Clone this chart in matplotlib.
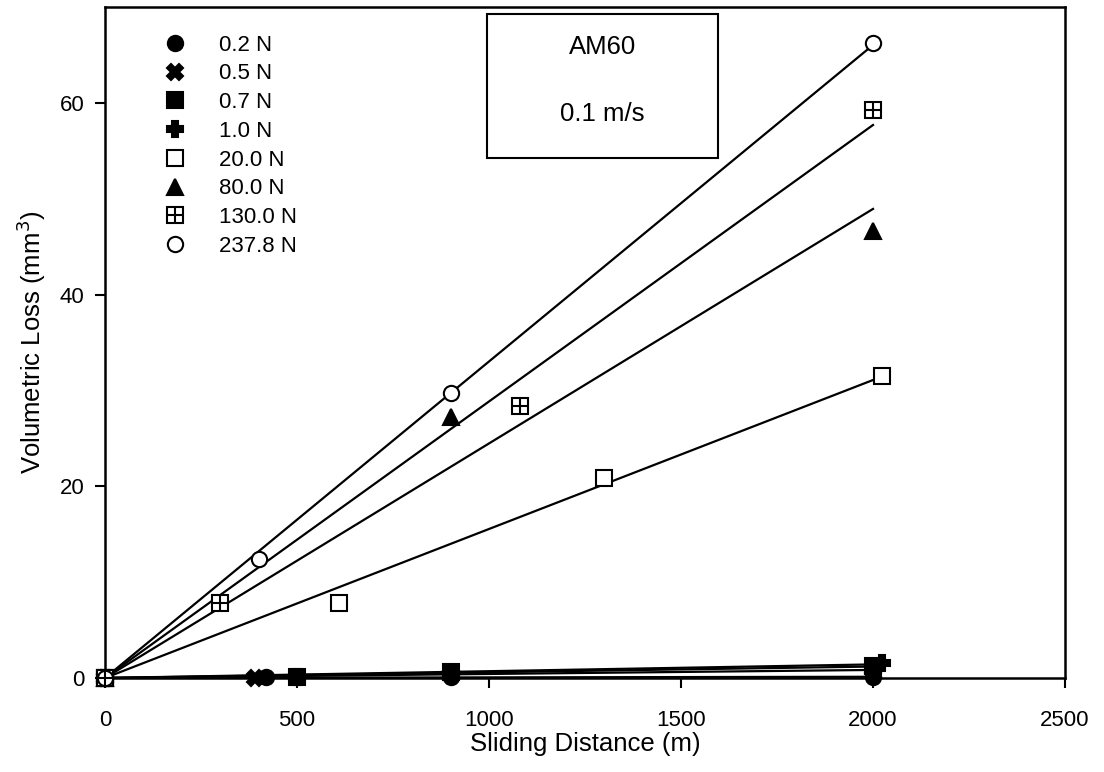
import numpy as np
import matplotlib
matplotlib.use('Agg')
import matplotlib.pyplot as plt
from matplotlib.legend_handler import HandlerTuple

plt.rcParams['font.family'] = ['Liberation Sans', 'DejaVu Sans']

# ---------- Data ----------
labels = ['0.2 N', '0.5 N', '0.7 N', '1.0 N', '20.0 N', '80.0 N', '130.0 N', '237.8 N']

x_02 = [0, 420, 900, 2000]
y_02 = [0, 0.05, 0.1, 0.1]
x_05 = [0, 390, 900, 2000]
y_05 = [0, 0.02, 0.3, 0.9]
x_07 = [0, 500, 900, 2000]
y_07 = [0, 0.15, 0.6, 1.2]
x_10 = [0, 500, 900, 2023]
y_10 = [0, 0.1, 0.4, 1.6]
x_20 = [0, 610, 1300, 2023]
y_20 = [0, 7.8, 20.9, 31.5]
x_80 = [0, 900, 2000]
y_80 = [0, 27.2, 46.6]
x_130 = [0, 300, 1080, 2000]
y_130 = [0, 7.8, 28.4, 59.3]
x_238 = [0, 400, 900, 2000]
y_238 = [0, 12.4, 29.7, 66.2]

xs = [x_02, x_05, x_07, x_10, x_20, x_80, x_130, x_238]
ys = [y_02, y_05, y_07, y_10, y_20, y_80, y_130, y_238]

# marker styles: (marker, facecolor)
styles = [('o', 'black'), ('X', 'black'), ('s', 'black'), ('P', 'black'),
          ('s', 'white'), ('^', 'black'), ('s', 'white'), ('o', 'white')]

fig = plt.figure(figsize=(11.04, 7.72), dpi=100)
ax = fig.add_axes([0.0951, 0.1218, 0.8696, 0.8692])

ms = 11
handles = []
for i, (x, y) in enumerate(zip(xs, ys)):
    x = np.array(x, float)
    y = np.array(y, float)
    # least-squares line through the origin
    slope = np.sum(x * y) / np.sum(x * x)
    xl = np.array([0, x.max()])
    ax.plot(xl, slope * xl, color='black', lw=1.6, zorder=2)

for i, (x, y) in enumerate(zip(xs, ys)):
    mk, fc = styles[i]
    h = ax.plot(x, y, ls='none', marker=mk, ms=ms, mfc=fc, mec='black', mew=1.5,
                zorder=3, clip_on=False)[0]
    if labels[i] == '130.0 N':
        h2 = ax.plot(x, y, ls='none', marker='+', ms=ms, mec='black', mew=1.5,
                     zorder=4, clip_on=False)[0]
        handles.append((h, h2))
    else:
        handles.append(h)

ax.legend(handles, labels, loc='upper left', bbox_to_anchor=(0.045, 0.982),
          frameon=False, fontsize=16, handlelength=1.0, handletextpad=1.5,
          labelspacing=0.35, borderpad=0.2,
          handler_map={tuple: HandlerTuple(ndivide=1, pad=0)})

ax.text(0.518, 0.941, 'AM60', transform=ax.transAxes, ha='center', va='center', fontsize=18.5)
ax.text(0.518, 0.841, '0.1 m/s', transform=ax.transAxes, ha='center', va='center', fontsize=18.5)
box = plt.Rectangle((0.398, 0.775), 0.2405, 0.215, transform=ax.transAxes,
                    fill=False, ec='black', lw=1.5)
ax.add_patch(box)

ax.set_xlim(0, 2500)
ax.set_ylim(0, 70)
ax.set_xticks([0, 500, 1000, 1500, 2000, 2500])
ax.set_yticks([0, 20, 40, 60])
ax.tick_params(direction='out', length=7, width=1.5, labelsize=16)
ax.tick_params(axis='x', pad=16)
ax.tick_params(axis='y', pad=8)
for s in ax.spines.values():
    s.set_linewidth(1.8)

ax.set_xlabel('Sliding Distance (m)', fontsize=18.5, labelpad=1)
ax.set_ylabel('Volumetric Loss (mm$^3$)', fontsize=18.5, labelpad=8)

fig.savefig('out.png', dpi=100)
